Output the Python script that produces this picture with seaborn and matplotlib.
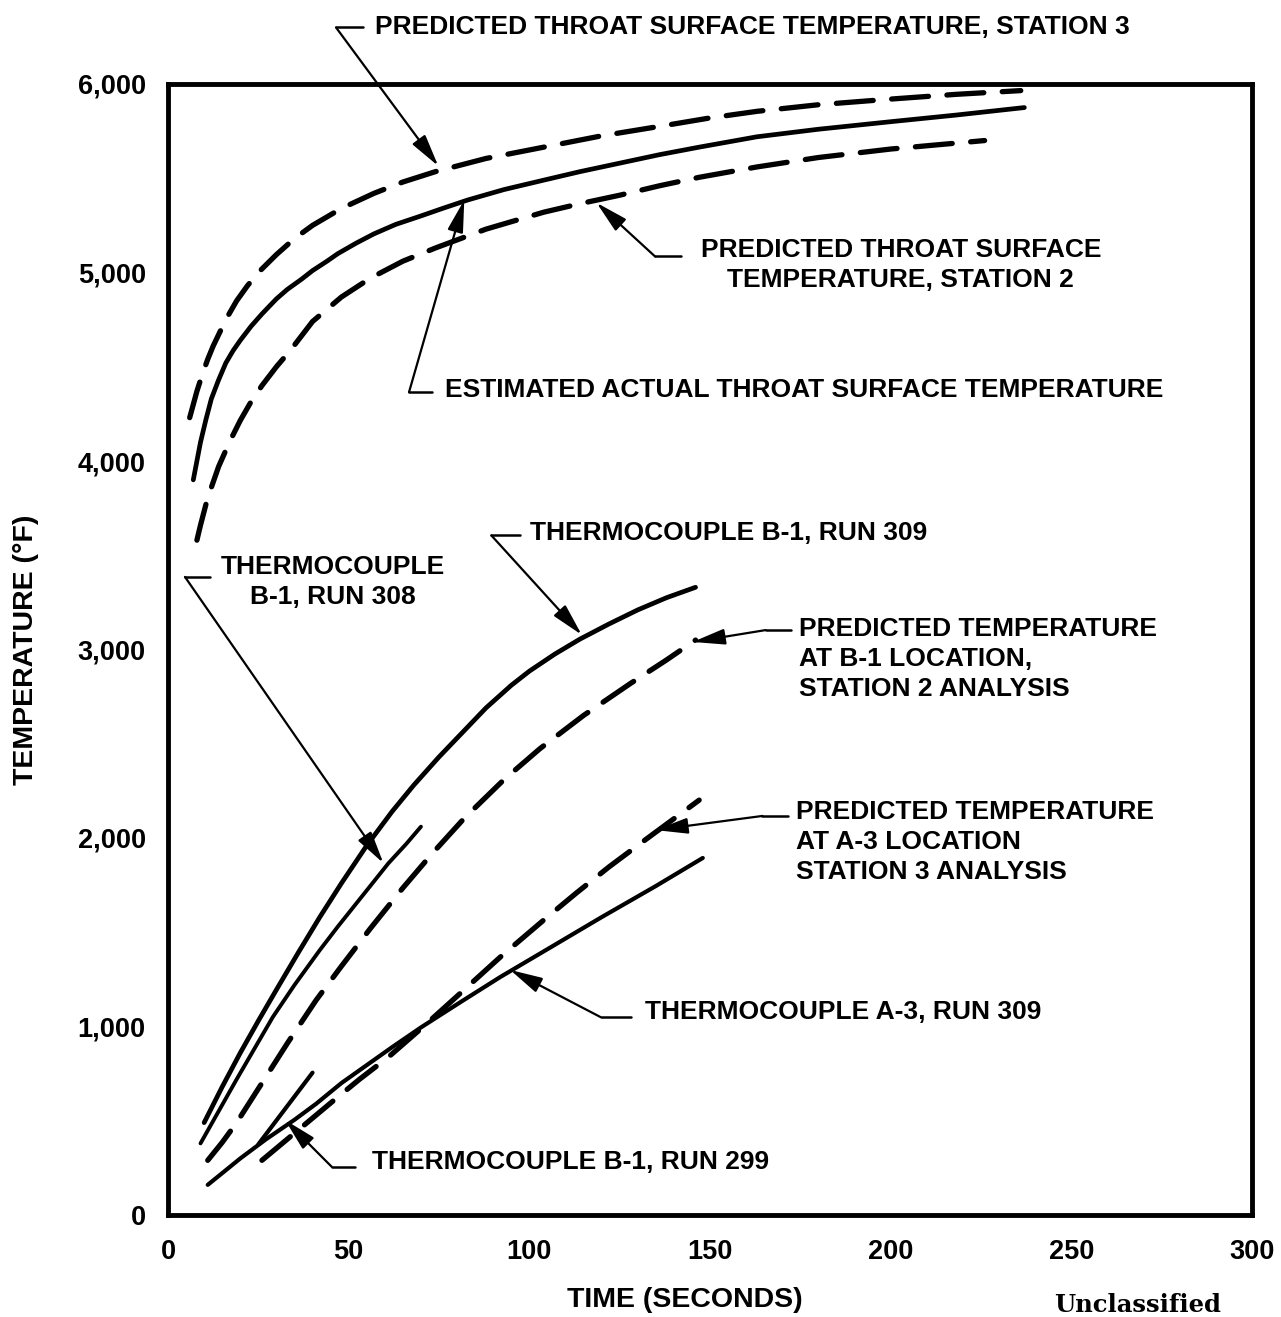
import numpy as np
import pandas as pd
import matplotlib
matplotlib.use("Agg")
import matplotlib.pyplot as plt
import seaborn as sns

sns.set_style("white")
plt.rcParams['font.family'] = ['Liberation Sans Narrow', 'Liberation Sans', 'DejaVu Sans']
plt.rcParams['text.color'] = 'black'
plt.rcParams['axes.labelcolor'] = 'black'
plt.rcParams['xtick.color'] = 'black'
plt.rcParams['ytick.color'] = 'black'

# --- curves (time in s, temperature in deg F) ---
est_t = [7, 8, 9, 10.5, 12, 14, 16, 18, 20, 23, 26, 30, 33, 37, 40, 44, 47, 52, 57, 63, 70, 76,
         83, 93, 104, 114, 125, 136, 147, 163, 180, 200, 218, 237]
est_T = [3900, 4000, 4100, 4220, 4330, 4430, 4520, 4585, 4640, 4715, 4780, 4860, 4910, 4965, 5010,
         5060, 5100, 5155, 5205, 5255, 5300, 5340, 5385, 5440, 5490, 5535, 5580, 5625, 5665, 5720,
         5760, 5800, 5835, 5875]

st3_t = [6, 7, 8, 9.5, 11, 12.5, 14, 16, 19, 22, 25, 30, 35, 40, 48, 57, 65, 74, 88, 104, 120,
         136, 150, 163, 180, 200, 218, 236]
st3_T = [4230, 4300, 4370, 4460, 4540, 4610, 4670, 4750, 4850, 4930, 5000, 5095, 5180, 5250, 5340,
         5420, 5480, 5535, 5605, 5665, 5725, 5775, 5820, 5855, 5890, 5920, 5945, 5965]

st2_t = [8, 9, 10.5, 12, 14, 17, 20, 23, 26, 30, 34, 40, 48, 56, 65, 74, 88, 104, 114, 125, 136,
         147, 163, 180, 200, 226]
st2_T = [3580, 3660, 3770, 3860, 3970, 4100, 4215, 4315, 4400, 4500, 4590, 4740, 4870, 4970, 5060,
         5130, 5230, 5320, 5365, 5410, 5460, 5505, 5560, 5610, 5655, 5700]

b1_309_t = [10, 15, 20, 25, 30, 36, 42, 48, 55, 62, 68, 75, 82, 88, 95, 100, 107, 114, 122, 130,
            138, 146]
b1_309_T = [490, 680, 860, 1030, 1195, 1390, 1580, 1760, 1960, 2140, 2280, 2430, 2570, 2690, 2810,
            2885, 2975, 3055, 3135, 3210, 3275, 3330]

b1_308_t = [9, 14, 19, 24, 29, 35, 42, 47, 52, 57, 61, 66, 70]
b1_308_T = [380, 550, 720, 885, 1050, 1220, 1405, 1530, 1650, 1770, 1866, 1970, 2060]

b1_pred_t = [11, 15, 19, 26, 33, 41, 48, 56, 65, 73, 82, 93, 103, 115, 128, 138, 146]
b1_pred_T = [290, 385, 490, 700, 910, 1140, 1320, 1520, 1735, 1915, 2105, 2310, 2475, 2650, 2820,
             2945, 3050]

a3_309_t = [11, 15, 20, 27, 35, 41, 48, 55, 62, 70, 81, 92, 105, 120, 135, 148]
a3_309_T = [160, 222, 300, 400, 505, 590, 700, 795, 890, 995, 1130, 1263, 1410, 1580, 1745, 1894]

a3_pred_t = [26, 36, 46, 53, 61, 71, 81, 92, 104, 113, 122, 132, 147]
a3_pred_T = [290, 450, 610, 720, 838, 1005, 1178, 1369, 1565, 1708, 1846, 1989, 2201]

b1_299_t = [25, 40]
b1_299_T = [375, 755]

x_ticks = [0, 50, 100, 150, 200, 250, 300]
y_ticks = [0, 1000, 2000, 3000, 4000, 5000, 6000]
y_tick_labels = ["0", "1,000", "2,000", "3,000", "4,000", "5,000", "6,000"]

W, H = 1281, 1317
fig = plt.figure(figsize=(W / 100, H / 100), dpi=100)
ax = fig.add_axes([168 / W, 1 - 1215 / H, 1084 / W, 1131 / H])

dash = (0, (7, 3.5))
curves = [
    (st3_t, st3_T, dash, 3.8),
    (est_t, est_T, '-', 3.4),
    (st2_t, st2_T, dash, 3.8),
    (b1_309_t, b1_309_T, '-', 3.4),
    (b1_308_t, b1_308_T, '-', 2.8),
    (b1_pred_t, b1_pred_T, dash, 3.8),
    (a3_309_t, a3_309_T, '-', 3.0),
    (a3_pred_t, a3_pred_T, dash, 3.8),
    (b1_299_t, b1_299_T, '-', 3.0),
]
for xs, ys, ls, lw in curves:
    df = pd.DataFrame({'t': xs, 'T': ys})
    sns.lineplot(data=df, x='t', y='T', ax=ax, color='black', linestyle=ls,
                 linewidth=lw, solid_capstyle='round', dash_capstyle='round',
                 solid_joinstyle='round', dash_joinstyle='round')

ax.set_xlim(0, 300)
ax.set_ylim(0, 6000)
ax.set_xticks(x_ticks)
ax.set_xticklabels([str(v) for v in x_ticks])
ax.set_yticks(y_ticks)
ax.set_yticklabels(y_tick_labels)
ax.tick_params(direction='in', length=18, width=2.5, color='black', labelcolor='black')
ax.tick_params(axis='x', pad=17)
ax.tick_params(axis='y', pad=16)
for lab in ax.get_xticklabels() + ax.get_yticklabels():
    lab.set_fontfamily(['Liberation Sans', 'DejaVu Sans'])
    lab.set_fontweight('bold')
    lab.set_fontsize(19.5)
for sp in ax.spines.values():
    sp.set_linewidth(3.5)
    sp.set_color('black')
ax.set_xlabel('')
ax.set_ylabel('')

txt_kw = dict(fontsize=19, fontweight='bold', color='black', clip_on=False)
lab_kw = dict(fontsize=20.5, fontweight='bold', color='black', clip_on=False)
ax.text(0.477, -0.075, "TIME (SECONDS)", transform=ax.transAxes, ha='center', va='center', **lab_kw)
ax.text(-0.131, 0.5, "TEMPERATURE (\u00b0F)", transform=ax.transAxes, rotation=90,
        ha='center', va='center', **lab_kw)
fig.text(1138 / W, 1 - 1305 / H, "Unclassified", ha='center', va='center',
         fontsize=17.5, fontweight='bold', family=['DejaVu Serif'], color='black')


def leader(corner, end, tip):
    ax.plot([corner[0], end[0]], [corner[1], end[1]], color='black', lw=1.8, clip_on=False)
    ax.annotate('', xy=tip, xytext=corner, annotation_clip=False,
                arrowprops=dict(arrowstyle='-|>,head_length=0.9,head_width=0.22',
                                mutation_scale=22, lw=1.6, color='black',
                                shrinkA=0, shrinkB=0))


# station 3
ax.text(57.3, 6305, "PREDICTED THROAT SURFACE TEMPERATURE, STATION 3", ha='left', va='center', **txt_kw)
leader((46.5, 6300), (54, 6300), (74.8, 5565))
# station 2
ax.text(202.8, 5040, "PREDICTED THROAT SURFACE\nTEMPERATURE, STATION 2", ha='center', va='center',
        linespacing=1.35, **txt_kw)
leader((134.8, 5085), (142, 5085), (118.6, 5370))
# estimated actual
ax.text(76.7, 4377, "ESTIMATED ACTUAL THROAT SURFACE TEMPERATURE", ha='left', va='center', **txt_kw)
leader((66.7, 4365), (73.2, 4365), (82, 5385))
# B-1 run 309
ax.text(100.3, 3618, "THERMOCOUPLE B-1, RUN 309", ha='left', va='center', **txt_kw)
leader((89.5, 3605), (97.5, 3605), (114.5, 3078))
# B-1 run 308
ax.text(45.7, 3358, "THERMOCOUPLE\nB-1, RUN 308", ha='center', va='center', linespacing=1.3, **txt_kw)
leader((4.7, 3385), (11.6, 3385), (59.6, 1867))
# predicted B-1
ax.text(174.5, 2950, "PREDICTED TEMPERATURE\nAT B-1 LOCATION,\nSTATION 2 ANALYSIS", ha='left', va='center',
        linespacing=1.3, **txt_kw)
leader((165.4, 3103), (172.3, 3103), (145.2, 3040))
# predicted A-3
ax.text(173.7, 1979, "PREDICTED TEMPERATURE\nAT A-3 LOCATION\nSTATION 3 ANALYSIS", ha='left', va='center',
        linespacing=1.3, **txt_kw)
leader((164.5, 2117), (171.7, 2117), (134.9, 2042))
# A-3 run 309
ax.text(132.1, 1077, "THERMOCOUPLE A-3, RUN 309", ha='left', va='center', **txt_kw)
leader((119.7, 1050), (128, 1050), (94.7, 1300))
# B-1 run 299
ax.text(56.5, 281, "THERMOCOUPLE B-1, RUN 299", ha='left', va='center', **txt_kw)
leader((45.3, 256), (51.8, 256), (32.4, 504))

fig.savefig('out.png', dpi=100, facecolor='white')
